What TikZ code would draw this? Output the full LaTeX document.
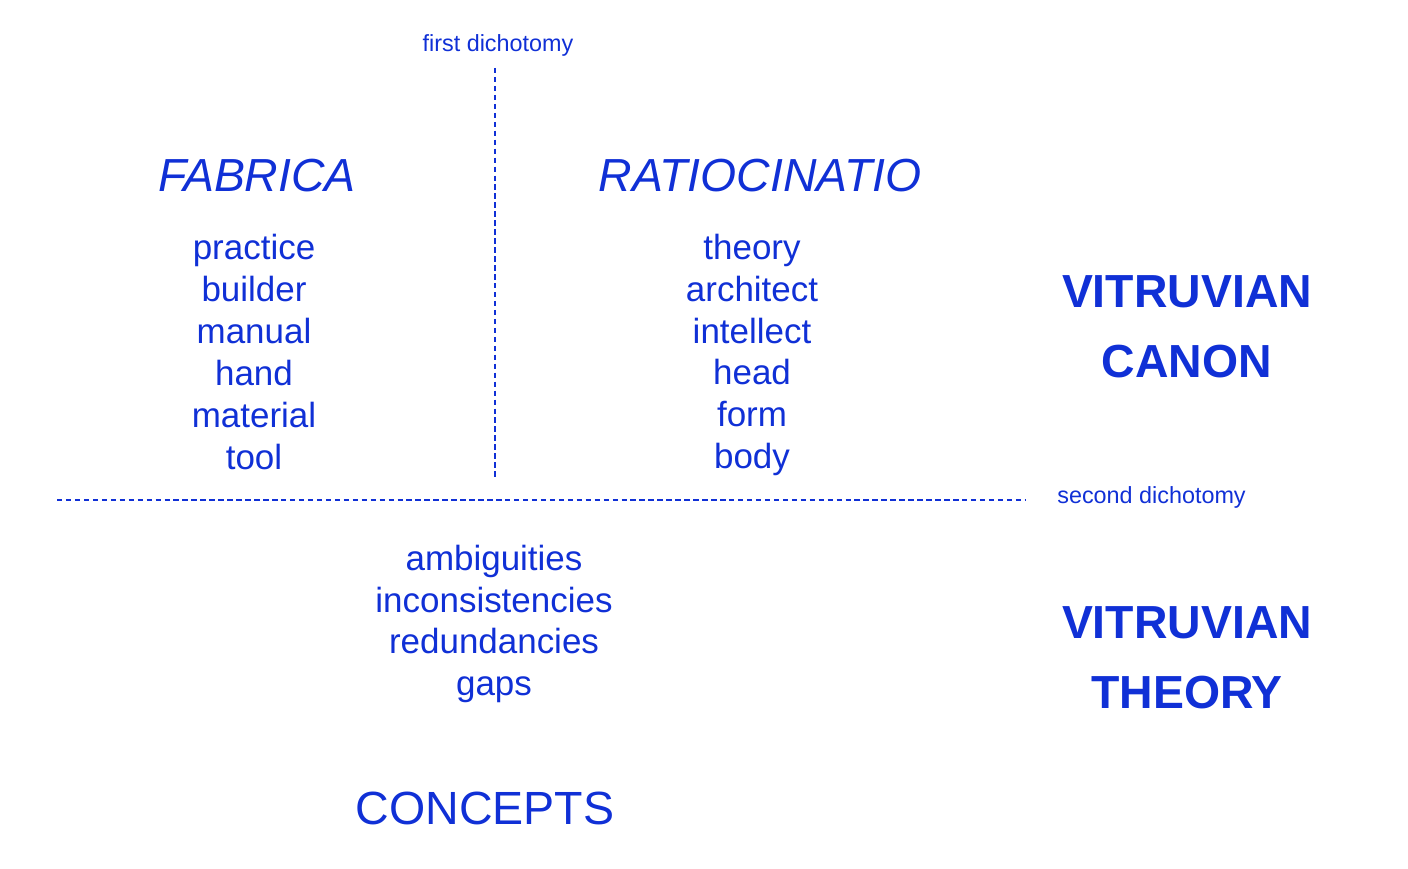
\documentclass[tikz,border=0pt]{standalone}
\usepackage{fontspec}
\setmainfont{Liberation Sans}
\definecolor{vitblue}{RGB}{16,48,214}
\begin{document}
\begin{tikzpicture}[
            x=0.02cm, y=-0.02cm,
            every node/.style={text=vitblue, inner sep=0pt},
            title/.style={font=\fontsize{26.4}{32}\selectfont\itshape},
            words/.style={align=center, font=\fontsize{19.9}{23.8}\selectfont},
            canon/.style={align=center, font=\fontsize{26.4}{39.7}\selectfont\bfseries},
            note/.style={font=\fontsize{13.3}{15}\selectfont},
            divider/.style={draw=vitblue, line width=1pt, dash pattern=on 3.1pt off 2pt}
        ]
            \useasboundingbox (0,0) rectangle (1408,868);

            % First dichotomy
            \node[note] (first) at (498,45) {first dichotomy};
            \coordinate (vtop) at (495,68);
            \coordinate (vbot) at (495,480);
            \draw[divider] (vtop) -- (vbot);

            % Fabrica
            \node[title] (fabrica) at (257,176) {FABRICA};
            \node[words] (fablist) at (254,352) {practice\\builder\\manual\\hand\\material\\tool};

            % Ratiocinatio
            \node[title] (ratio) at (760,176) {RATIOCINATIO};
            \node[words] (ratiolist) at (752,355) {theory\\architect\\intellect\\head\\form\\body};

            % Vitruvian canon
            \node[canon] (canon) at (1187,327) {VITRUVIAN\\CANON};

            % Second dichotomy
            \coordinate (hleft) at (57,500);
            \coordinate (hright) at (1025,500);
            \draw[divider] (hleft) -- (hright);
            \node[note, anchor=west] (second) at (1057,497) {second dichotomy};

            % Concepts
            \node[words] (gaps) at (494,624) {ambiguities\\inconsistencies\\redundancies\\gaps};
            \node[font=\fontsize{26.5}{32}\selectfont] (concepts) at (485,808) {CONCEPTS};

            % Vitruvian theory
            \node[canon] (theory) at (1187,658) {VITRUVIAN\\THEORY};

        \end{tikzpicture}
\end{document}
